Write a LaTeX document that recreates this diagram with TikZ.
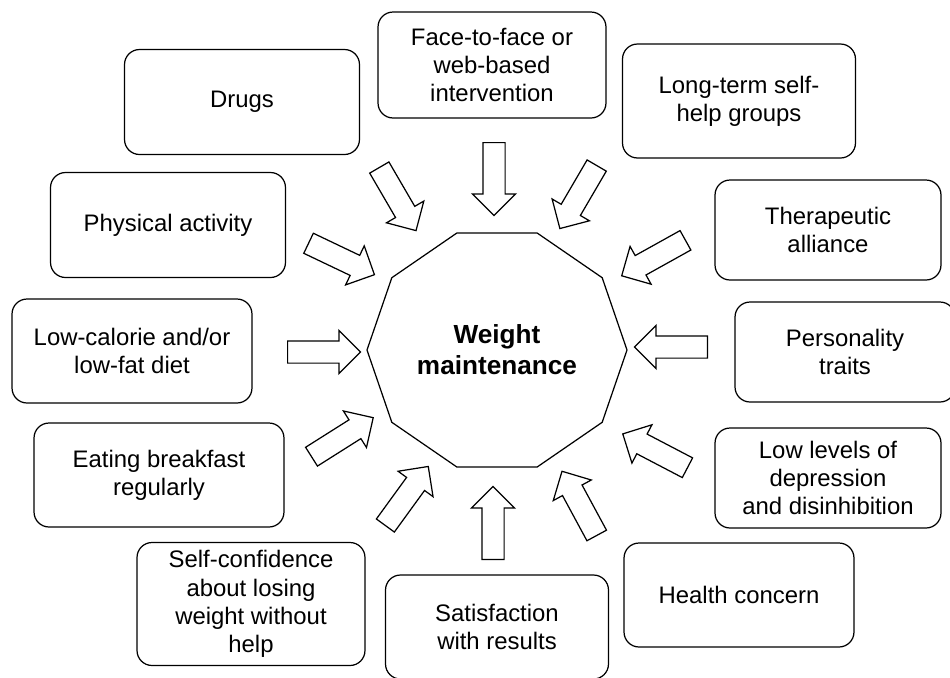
\documentclass[tikz,border=0pt]{standalone}
\usepackage{fontspec}
\setmainfont{Liberation Sans}
\usetikzlibrary{shapes.arrows}

\tikzstyle{factor} = [draw, rounded corners=0.3cm, line width=0.7pt, align=center, font=\fontsize{13.6}{16.1}\selectfont]
\tikzstyle{hub} = [align=center, font=\fontsize{14.9}{17.6}\selectfont\bfseries]
\tikzstyle{outline} = [draw, line width=0.7pt]
\tikzstyle{push} = [draw, single arrow, line width=0.7pt, minimum height=1.46cm, inner xsep=0pt, inner ysep=0.21cm, single arrow head extend=0.21cm, anchor=tail]

\begin{document}
\begin{tikzpicture}[x=0.02cm, y=-0.02cm]
    \useasboundingbox (0,0) rectangle (950,677);

    \node [hub] (hub) at (497,350) {Weight\\maintenance};
    \draw [outline] (hub.center) +(0:130 and 123)
        \foreach \a in {36,72,...,324} { -- +(\a:130 and 123) } -- cycle;

    \node [factor, minimum width=4.56cm, minimum height=2.12cm] (face) at (492,65) {Face-to-face or\\web-based\\intervention};
    \node [factor, minimum width=4.66cm, minimum height=2.28cm] (longterm) at (739,101) {Long-term self-\\help groups};
    \node [factor, minimum width=4.52cm, minimum height=2cm] (alliance) at (828,230) {Therapeutic\\alliance};
    \node [factor, minimum width=4.4cm, minimum height=2cm] (traits) at (845,352) {Personality\\traits};
    \node [factor, minimum width=4.52cm, minimum height=2cm] (mood) at (828,478) {Low levels of\\depression\\and disinhibition};
    \node [factor, minimum width=4.6cm, minimum height=2.08cm] (health) at (739,595) {Health concern};
    \node [factor, minimum width=4.46cm, minimum height=2.08cm] (results) at (497,627) {Satisfaction\\with results};
    \node [factor, minimum width=4.56cm, minimum height=2.46cm] (confidence) at (251,604) {Self-confidence\\about losing\\weight without\\help};
    \node [factor, minimum width=5cm, minimum height=2.08cm] (breakfast) at (159,475) {Eating breakfast\\regularly};
    \node [factor, minimum width=4.8cm, minimum height=2.08cm] (diet) at (132,351) {Low-calorie and/or\\low-fat diet};
    \node [factor, minimum width=4.7cm, minimum height=2.1cm] (activity) at (168,225) {Physical activity};
    \node [factor, minimum width=4.7cm, minimum height=2.1cm] (drugs) at (242,102) {Drugs};

    \node [push, rotate=-90] (pface) at (494,142) {};
    \node [push, rotate=-120.3] (plongterm) at (597,165) {};
    \node [push, rotate=-150.9] (palliance) at (686,240) {};
    \node [push, rotate=180] (ptraits) at (708,347) {};
    \node [push, rotate=152.4] (pmood) at (688,468) {};
    \node [push, rotate=118.4] (phealth) at (597,536) {};
    \node [push, rotate=90] (presults) at (493,560) {};
    \node [push, rotate=54] (pconfidence) at (385,526) {};
    \node [push, rotate=32.3] (pbreakfast) at (311,457) {};
    \node [push, rotate=0] (pdiet) at (287,352) {};
    \node [push, rotate=-25.5] (pactivity) at (308,243) {};
    \node [push, rotate=-59.8] (pdrugs) at (379,167) {};
\end{tikzpicture}
\end{document}
